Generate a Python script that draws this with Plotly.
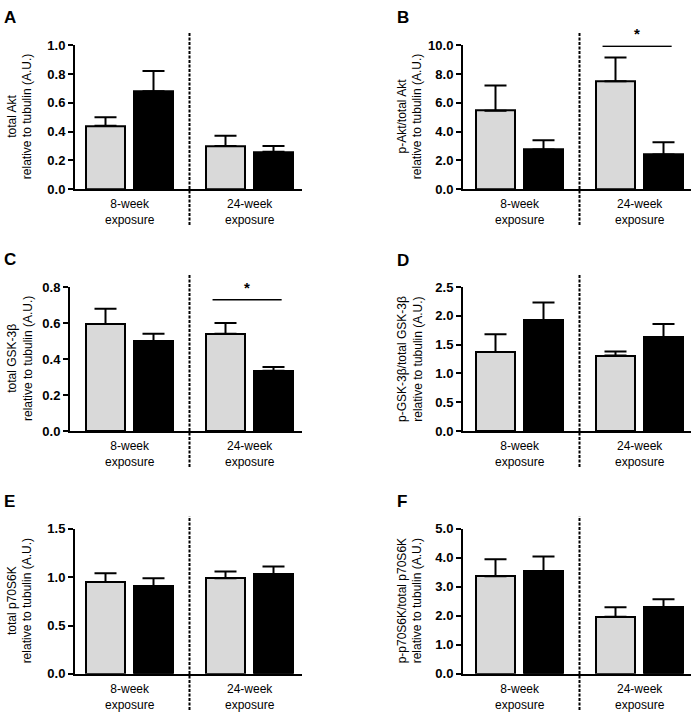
import plotly.graph_objects as go

# ---------------- data ----------------
panel_letters = ["A", "B", "C", "D", "E", "F"]
y_titles = [
    "total Akt<br>relative to tubulin (A.U.)",
    "p-Akt/total Akt<br>relative to tubulin (A.U.)",
    "total GSK-3β<br>relative to tubulin (A.U.)",
    "p-GSK-3β/total GSK-3β<br>relative to tubulin (A.U.)",
    "total p70S6K<br>relative to tubulin (A.U.)",
    "p-p70S6K/total p70S6K<br>relative to tubulin (A.U.)",
]
group_labels = ["8-week<br>exposure", "24-week<br>exposure"]

# values per panel: [8wk control, 8wk exposed, 24wk control, 24wk exposed]
means_A = [0.44, 0.68, 0.30, 0.26]
upper_A = [0.50, 0.82, 0.37, 0.30]
means_B = [5.45, 2.75, 7.50, 2.40]
upper_B = [7.20, 3.40, 9.15, 3.25]
means_C = [0.595, 0.50, 0.54, 0.335]
upper_C = [0.68, 0.54, 0.60, 0.355]
means_D = [1.37, 1.92, 1.31, 1.63]
upper_D = [1.68, 2.23, 1.38, 1.86]
means_E = [0.95, 0.91, 0.99, 1.03]
upper_E = [1.04, 0.99, 1.06, 1.11]
means_F = [3.37, 3.55, 1.97, 2.30]
upper_F = [3.95, 4.05, 2.30, 2.57]

y_max = [1.0, 10.0, 0.8, 2.5, 1.5, 5.0]
y_dtick = [0.2, 2.0, 0.2, 0.5, 0.5, 1.0]

sig_panels = [1, 2]
sig_values = [9.93, 0.73]

means = [means_A, means_B, means_C, means_D, means_E, means_F]
uppers = [upper_A, upper_B, upper_C, upper_D, upper_E, upper_F]

# ---------------- layout geometry ----------------
W, H = 696, 721
GRAY = "#d9d9d9"
FONT = "Liberation Sans, Arial, sans-serif"
PX_PER_UNIT = 48.0

ax_left = [75, 463, 70, 463, 75, 463]
ax_right = [302, 691, 302, 691, 302, 691]
ax_top = [39, 39, 286, 286, 533, 533]
ax_bot = [186, 186, 433, 433, 681, 681]
first_bar_px = [105.5, 495.5, 105.5, 495.5, 105.5, 495.5]
title_px = [20, 410, 20, 410, 20, 410]
letter_px = [(2, 11), (395, 11), (2, 258), (395, 259), (2, 505), (395, 505)]

bar_pos = [0.0, 1.0, 2.5, 3.5]
group_pos = [0.5, 3.0]
divider_pos = 1.75
colors = [GRAY, "black", GRAY, "black"]

fig = go.Figure()
annotations = []
shapes = []

for i in range(6):
    n = "" if i == 0 else str(i + 1)
    xa, ya = "x" + n, "y" + n
    err = [u - m for u, m in zip(uppers[i], means[i])]
    fig.add_trace(go.Bar(
        x=bar_pos, y=means[i], width=0.82,
        marker=dict(color=colors, line=dict(color="black", width=2)),
        error_y=dict(type="data", symmetric=False, array=err,
                     arrayminus=[0] * 4, thickness=2, width=11, color="black"),
        xaxis=xa, yaxis=ya, showlegend=False, hoverinfo="y",
    ))
    c = first_bar_px[i]
    fig.layout["xaxis" + n] = dict(
        domain=[ax_left[i] / W, ax_right[i] / W],
        range=[(ax_left[i] - c) / PX_PER_UNIT, (ax_right[i] - c) / PX_PER_UNIT],
        anchor=ya, showline=True, linewidth=2, linecolor="black",
        showgrid=False, zeroline=False, ticks="", showticklabels=False,
        fixedrange=True,
    )
    fig.layout["yaxis" + n] = dict(
        domain=[1 - ax_bot[i] / H, 1 - ax_top[i] / H],
        range=[0, y_max[i]], anchor=xa,
        showline=True, linewidth=2, linecolor="black",
        showgrid=False, zeroline=False,
        ticks="outside", ticklen=5, tickwidth=2, tickcolor="black",
        dtick=y_dtick[i], tick0=0, tickformat=".1f",
        tickfont=dict(family=FONT, size=13, color="black", weight="bold"),
        fixedrange=True,
    )
    for gp, gl in zip(group_pos, group_labels):
        annotations.append(dict(
            xref=xa, yref=ya + " domain", x=gp, y=0, text=gl,
            showarrow=False, xanchor="center", yanchor="top", yshift=-6,
            font=dict(family=FONT, size=12, color="black"),
        ))
    annotations.append(dict(
        xref="paper", yref="paper", x=title_px[i] / W,
        y=1 - (ax_top[i] + ax_bot[i]) / 2 / H,
        text=y_titles[i], textangle=-90, showarrow=False,
        xanchor="center", yanchor="middle",
        font=dict(family=FONT, size=12, color="black"),
    ))
    lx, ly = letter_px[i]
    annotations.append(dict(
        xref="paper", yref="paper", x=lx / W, y=1 - ly / H,
        text="<b>%s</b>" % panel_letters[i], showarrow=False,
        xanchor="left", yanchor="middle",
        font=dict(family=FONT, size=17, color="black"),
    ))
    shapes.append(dict(
        type="line", xref=xa, yref=ya + " domain",
        x0=divider_pos, x1=divider_pos, y0=-0.25, y1=1.088,
        line=dict(color="black", width=2, dash="3px,1.5px"),
    ))

for p, v in zip(sig_panels, sig_values):
    n = "" if p == 0 else str(p + 1)
    shapes.append(dict(
        type="line", xref="x" + n, yref="y" + n,
        x0=group_pos[1] - 0.77, x1=group_pos[1] + 0.67, y0=v, y1=v,
        line=dict(color="black", width=1.5),
    ))
    annotations.append(dict(
        xref="x" + n, yref="y" + n, x=group_pos[1] - 0.05, y=v,
        text="<b>*</b>", showarrow=False, xanchor="center", yanchor="bottom",
        yshift=2, font=dict(family=FONT, size=15, color="black"),
    ))

fig.update_layout(
    width=W, height=H, margin=dict(l=0, r=0, t=0, b=0),
    paper_bgcolor="white", plot_bgcolor="white",
    showlegend=False, bargap=0,
    annotations=annotations, shapes=shapes,
    font=dict(family=FONT, color="black"),
)

fig.write_html("out.html", config={"displayModeBar": False},
               post_script="document.body.style.margin='0px';")
